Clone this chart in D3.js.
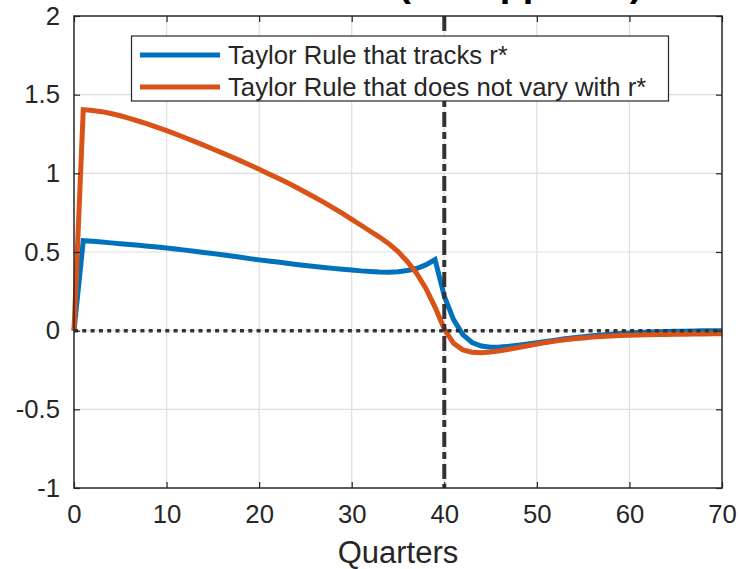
<!DOCTYPE html>
<html>
<head>
<meta charset="utf-8">
<script src="https://cdn.jsdelivr.net/npm/d3@7"></script>
<style>
  html, body { margin: 0; padding: 0; background: #fff; }
  svg { display: block; font-family: "Liberation Sans", Arial, Helvetica, sans-serif; }
</style>
</head>
<body>
<svg id="chart" width="740" height="569"></svg>
<script>
// Quarters after the shock
const quarters = [
  0, 1, 2, 3, 4, 5, 6, 7, 8, 9,
  10, 11, 12, 13, 14, 15, 16, 17, 18, 19,
  20, 21, 22, 23, 24, 25, 26, 27, 28, 29,
  30, 31, 32, 33, 34, 35, 36, 37, 38, 39,
  40, 41, 42, 43, 44, 45, 46, 47, 48, 49,
  50, 51, 52, 53, 54, 55, 56, 57, 58, 59,
  60, 61, 62, 63, 64, 65, 66, 67, 68, 69, 70
];

// Response under a Taylor rule whose intercept tracks r*
const tracksRstar = [
  0.000, 0.572, 0.568, 0.563, 0.558, 0.553, 0.548, 0.543, 0.537, 0.532,
  0.526, 0.519, 0.512, 0.505, 0.497, 0.490, 0.482, 0.474, 0.466, 0.458,
  0.450, 0.443, 0.436, 0.428, 0.421, 0.414, 0.408, 0.402, 0.396, 0.391,
  0.386, 0.380, 0.376, 0.373, 0.372, 0.374, 0.382, 0.395, 0.418, 0.452,
  0.220, 0.070, -0.025, -0.075, -0.098, -0.105, -0.104, -0.099, -0.092, -0.084,
  -0.076, -0.068, -0.060, -0.052, -0.045, -0.038, -0.032, -0.027, -0.022, -0.018,
  -0.015, -0.012, -0.009, -0.007, -0.005, -0.004, -0.003, -0.002, -0.001, 0.000, 0.000
];

// Response under a Taylor rule with a fixed intercept
const fixedRstar = [
  0.000, 1.405, 1.400, 1.392, 1.380, 1.366, 1.349, 1.331, 1.312, 1.292,
  1.271, 1.249, 1.226, 1.203, 1.179, 1.155, 1.130, 1.105, 1.079, 1.053,
  1.026, 0.998, 0.970, 0.941, 0.911, 0.880, 0.848, 0.815, 0.781, 0.745,
  0.707, 0.670, 0.632, 0.595, 0.553, 0.503, 0.440, 0.365, 0.270, 0.150,
  0.010, -0.080, -0.122, -0.137, -0.140, -0.136, -0.128, -0.118, -0.107, -0.096,
  -0.085, -0.075, -0.066, -0.058, -0.051, -0.046, -0.041, -0.037, -0.034, -0.031,
  -0.029, -0.027, -0.026, -0.025, -0.024, -0.023, -0.022, -0.021, -0.021, -0.020, -0.020
];

const seriesNames = ["Taylor Rule that tracks r*", "Taylor Rule that does not vary with r*"];
const seriesColors = ["#0072BD", "#D95319"];
const xTicks = [0, 10, 20, 30, 40, 50, 60, 70];
const yTicks = [-1, -0.5, 0, 0.5, 1, 1.5, 2];
const regimeEnd = 40;
const titleText = "Inflation (ann. pp dev.)";
const xLabel = "Quarters";

const svg = d3.select("#chart");
const plot = { left: 74, right: 722, top: 16, bottom: 488 };

const x = d3.scaleLinear().domain([0, 70]).range([plot.left, plot.right]);
const y = d3.scaleLinear().domain([-1, 2]).range([plot.bottom, plot.top]);

const axisColor = "#262626";

// Title (sits above the axes; only its lowest part falls inside the page)
svg.append("text")
  .attr("x", 240).attr("y", -4)
  .attr("text-anchor", "start")
  .attr("font-size", 38).attr("font-weight", "bold")
  .attr("fill", "#000")
  .text(titleText);

// Grid
const grid = svg.append("g").attr("stroke", "#dedede").attr("stroke-width", 1.2);
grid.selectAll("line.gx").data(xTicks.slice(1, -1)).join("line")
  .attr("x1", d => x(d)).attr("x2", d => x(d))
  .attr("y1", plot.top).attr("y2", plot.bottom);
grid.selectAll("line.gy").data(yTicks.slice(1, -1)).join("line")
  .attr("x1", plot.left).attr("x2", plot.right)
  .attr("y1", d => y(d)).attr("y2", d => y(d));

// Series lines
const line = d3.line().x((d, i) => x(quarters[i])).y(d => y(d));
[tracksRstar, fixedRstar].forEach((vals, k) => {
  svg.append("path")
    .datum(vals)
    .attr("fill", "none")
    .attr("stroke", seriesColors[k])
    .attr("stroke-width", 5)
    .attr("stroke-linejoin", "miter")
    .attr("d", line);
});

// Zero reference line (dotted)
svg.append("line")
  .attr("x1", x(0)).attr("x2", x(70))
  .attr("y1", y(0)).attr("y2", y(0))
  .attr("stroke", "#333").attr("stroke-width", 3.5)
  .attr("stroke-dasharray", "4,4.3");

// End of the regime (dash-dot)
svg.append("line")
  .attr("x1", x(regimeEnd)).attr("x2", x(regimeEnd))
  .attr("y1", y(2)).attr("y2", y(-1))
  .attr("stroke", "#333").attr("stroke-width", 4)
  .attr("stroke-dasharray", "15,5,7,5");

// Axes with inward ticks
const fontSize = 25.7;
const gx = svg.append("g").attr("transform", `translate(0,${plot.bottom})`)
  .call(d3.axisBottom(x).tickValues(xTicks).tickSize(-6).tickPadding(17).tickFormat(d3.format("d")));
const gy = svg.append("g").attr("transform", `translate(${plot.left},0)`)
  .call(d3.axisLeft(y).tickValues(yTicks).tickSize(-6).tickPadding(14).tickFormat(d => String(d)));
const gxTop = svg.append("g").attr("transform", `translate(0,${plot.top})`)
  .call(d3.axisTop(x).tickValues(xTicks).tickSize(-6).tickFormat(""));
const gyRight = svg.append("g").attr("transform", `translate(${plot.right},0)`)
  .call(d3.axisRight(y).tickValues(yTicks).tickSize(-6).tickFormat(""));

[gx, gy, gxTop, gyRight].forEach(g => {
  g.select(".domain").remove();
  g.selectAll(".tick line").attr("stroke", axisColor).attr("stroke-width", 1.2);
  g.selectAll(".tick text").attr("fill", axisColor).attr("font-size", fontSize)
    .attr("font-family", "'Liberation Sans', Arial, sans-serif");
});

// Axes box
svg.append("rect")
  .attr("x", plot.left).attr("y", plot.top)
  .attr("width", plot.right - plot.left).attr("height", plot.bottom - plot.top)
  .attr("fill", "none").attr("stroke", axisColor).attr("stroke-width", 1.5);

// X label
svg.append("text")
  .attr("x", (plot.left + plot.right) / 2).attr("y", 563)
  .attr("text-anchor", "middle")
  .attr("font-size", 31).attr("fill", axisColor)
  .text(xLabel);

// Legend
const legend = svg.append("g");
legend.append("rect")
  .attr("x", 131.5).attr("y", 36)
  .attr("width", 537).attr("height", 65)
  .attr("fill", "#fff").attr("stroke", axisColor).attr("stroke-width", 1.2);
seriesNames.forEach((name, k) => {
  const cy = 55 + k * 32;
  legend.append("line")
    .attr("x1", 140).attr("x2", 220)
    .attr("y1", cy).attr("y2", cy)
    .attr("stroke", seriesColors[k]).attr("stroke-width", 5);
  legend.append("text")
    .attr("x", 228).attr("y", cy + 9)
    .attr("font-size", fontSize).attr("fill", axisColor)
    .text(name);
});
</script>
</body>
</html>
